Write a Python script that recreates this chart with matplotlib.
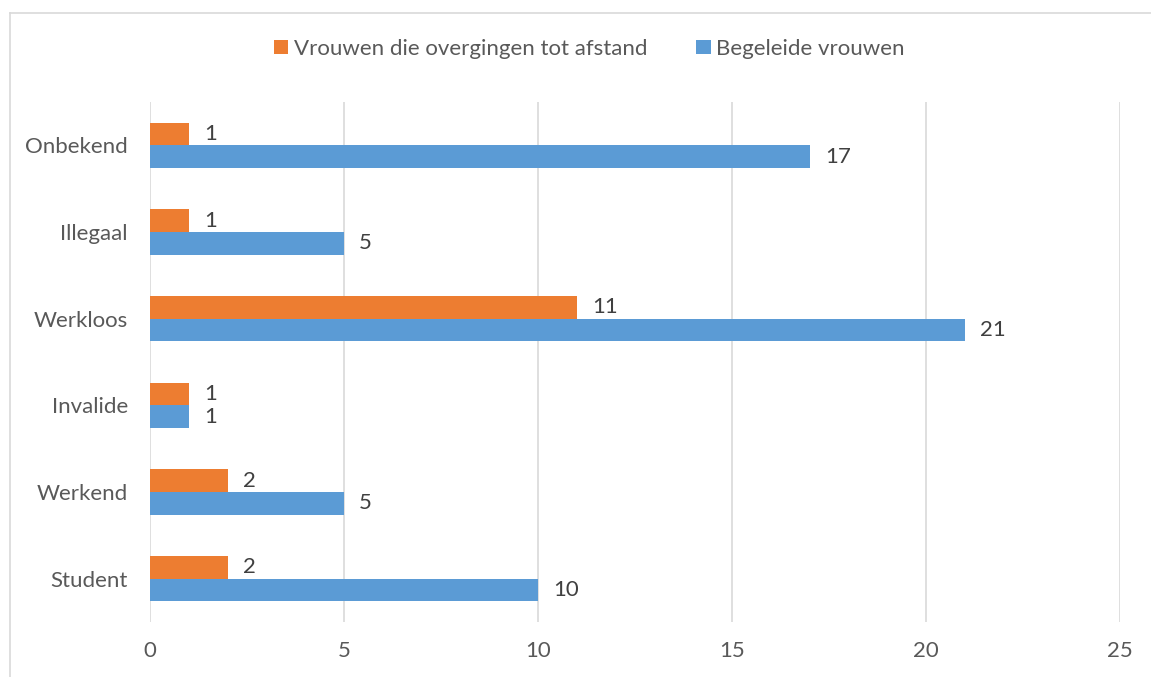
import matplotlib.pyplot as plt
import numpy as np
from matplotlib.lines import Line2D

# Data (bottom to top, as drawn)
categories = ['Student', 'Werkend', 'Invalide', 'Werkloos', 'Illegaal', 'Onbekend']
afstand = [2, 2, 1, 11, 1, 1]
begeleid = [10, 5, 1, 21, 5, 17]
x_ticks = [0, 5, 10, 15, 20, 25]

orange = '#ED7D31'
blue = '#5B9BD5'
grey_text = '#595959'
grid_col = '#D9D9D9'

plt.rcParams['font.family'] = ['Lato', 'DejaVu Sans']
fs = 16

fig = plt.figure(figsize=(11.51, 6.77), dpi=100)
ax = fig.add_axes([0.1303, 0.0812, 0.8428, 0.7681])

y = np.arange(len(categories))
h = 0.26
b1 = ax.barh(y + h / 2, afstand, height=h, color=orange,
             label='Vrouwen die overgingen tot afstand')
b2 = ax.barh(y - h / 2, begeleid, height=h, color=blue,
             label='Begeleide vrouwen')

ax.bar_label(b1, padding=11, fontsize=fs, color='#404040')
ax.bar_label(b2, padding=11, fontsize=fs, color='#404040')

ax.set_xlim(0, 25)
ax.set_ylim(-0.5, len(categories) - 0.5)
ax.set_xticks(x_ticks)
ax.set_yticks(y)
ax.set_yticklabels(categories)
ax.tick_params(axis='both', length=0, labelsize=fs, labelcolor=grey_text)
ax.tick_params(axis='y', pad=16)
ax.tick_params(axis='x', pad=14)
ax.grid(axis='x', color=grid_col, linewidth=1.2)
ax.set_axisbelow(True)
for s in ax.spines.values():
    s.set_visible(False)

fig.legend(handles=[b1, b2], loc='center', bbox_to_anchor=(0.512, 0.928),
           ncol=2, frameon=False, fontsize=fs, labelcolor=grey_text,
           handlelength=0.65, handleheight=0.65, handletextpad=0.25,
           columnspacing=2.2)

# chart frame (only left and top edges show in the crop)
fx = 9.5 / 1151
fy = 1 - 12.5 / 677
fig.add_artist(Line2D([fx, fx], [0, fy], transform=fig.transFigure,
                      color=grid_col, linewidth=1.2))
fig.add_artist(Line2D([fx, 1], [fy, fy], transform=fig.transFigure,
                      color=grid_col, linewidth=1.2))

fig.savefig('out.png', dpi=100)
